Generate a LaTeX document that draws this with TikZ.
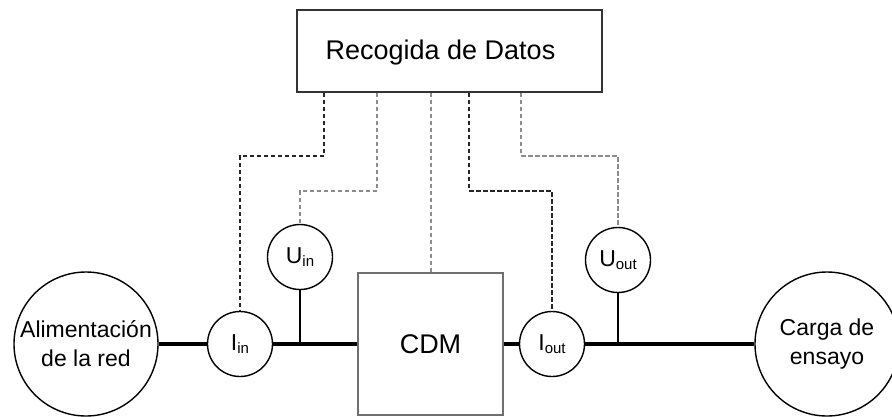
\documentclass[tikz,border=0pt]{standalone}
\usepackage{fontspec}
\setmainfont{Liberation Sans}
\usetikzlibrary{calc}
\definecolor{sgrey}{HTML}{8C8C8C}
\definecolor{bgrey}{HTML}{555555}
\newcommand{\sbs}[1]{\raisebox{-3.5pt}{\fontsize{15}{15}\selectfont #1}}
\tikzset{
  meas/.style={circle, draw=black, line width=1.4pt, minimum size=65pt, inner sep=0pt, font=\fontsize{23}{28}\selectfont},
  big/.style={circle, draw=black, line width=1.4pt, minimum size=144pt, inner sep=0pt, align=center, font=\fontsize{23}{29}\selectfont},
  blk/.style={rectangle, draw=bgrey, line width=1.6pt, inner sep=0pt},
  power/.style={line width=4.5pt, black},
  stem/.style={line width=1.4pt, black},
  sigk/.style={line width=1.8pt, dash pattern=on 4.5pt off 2.5pt, black!85},
  sigg/.style={line width=2pt, dash pattern=on 4.5pt off 2.5pt, sgrey}
}
\begin{document}
\begin{tikzpicture}[x=1pt,y=-1pt]
\useasboundingbox (0,0) rectangle (892,416);
\fill[white] (0,0) rectangle (892,416);
% blocks
\node[blk, draw=black!80, minimum width=305pt, minimum height=82pt,
  label={[xshift=-9pt,yshift=-2pt,font=\fontsize{27}{32}\selectfont]center:Recogida de Datos}] (rd) at (449.5,51) {};
\node[blk, draw=sgrey!80!black, minimum width=145pt, minimum height=142pt, font=\fontsize{27}{32}\selectfont] (cdm) at (430.5,344) {CDM};
% circles
\node[big] (alim) at (86,344) {Alimentación\\de la red};
\node[big] (carga) at (827,344) {Carga de\\ensayo};
\node[meas] (iin) at (240,344) {I\sbs{in}};
\node[meas] (uin) at (300,257) {U\sbs{in}};
\node[meas] (iout) at (552,344) {I\sbs{out}};
\node[meas] (uout) at (618,260) {U\sbs{out}};
% power line
\draw[power] (alim.east) -- (iin.west);
\draw[power] (iin.east) -- (cdm.west);
\draw[power] (cdm.east) -- (iout.west);
\draw[power] (iout.east) -- (carga.west);
% voltage taps
\draw[stem] (uin.south) -- (uin.south |- iin.east);
\draw[stem] (uout.south) -- (uout.south |- iout.east);
% signal lines
\draw[sigk] ([xshift=28pt]rd.south west) -- ++(0,63) -| (iin.north);
\draw[sigg] ([xshift=81pt]rd.south west) -- ++(0,98) -| (uin.north);
\draw[sigg] (rd.south -| cdm.north) -- (cdm.north);
\draw[sigk] ([xshift=173pt]rd.south west) -- ++(0,98) -| (iout.north);
\draw[sigg] ([xshift=225pt]rd.south west) -- ++(0,63) -| (uout.north);
\end{tikzpicture}
\end{document}
